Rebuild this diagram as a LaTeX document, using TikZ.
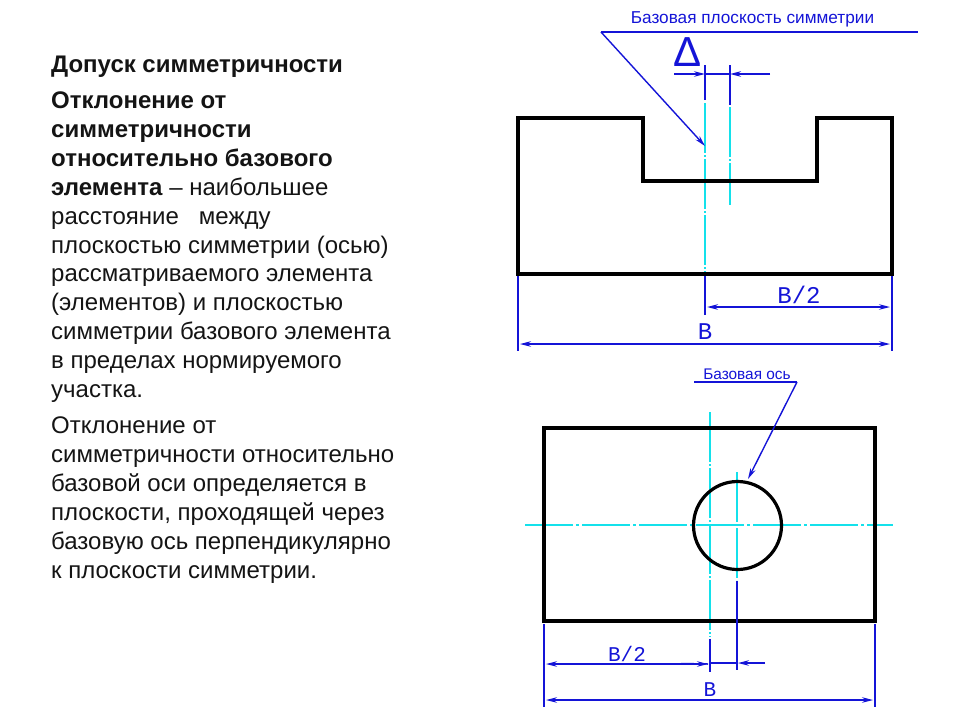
\documentclass[tikz,border=0pt]{standalone}
\usepackage{fontspec}
\setmainfont{Liberation Sans}
\newfontfamily\cadfont{Liberation Mono}
\usetikzlibrary{arrows.meta}
\definecolor{dimblue}{RGB}{20,20,215}
\definecolor{axiscyan}{RGB}{20,225,235}
\definecolor{txt}{RGB}{20,20,20}
\tikzset{
  x=1pt,y=-1pt,
  outline/.style={draw=black,line width=3.2pt,line join=miter},
  axisline/.style={draw=axiscyan,line width=2.4pt,dash pattern=on 50pt off 2pt on 2pt off 2pt},
  axisthin/.style={draw=axiscyan,line width=1.5pt,dash pattern=on 50pt off 2pt on 2pt off 2pt},
  centerline/.style={draw=axiscyan,line width=1.5pt,dash pattern=on 48pt off 3pt on 3pt off 3pt},
  dimthin/.style={draw=dimblue,line width=1.2pt},
  dimthick/.style={draw=dimblue,line width=2.2pt},
  dimarrow/.style={dimthin,{Stealth[length=11pt,width=5.5pt]}-{Stealth[length=11pt,width=5.5pt]}},
  toarrow/.style={dimthin,-{Stealth[length=11pt,width=5.5pt]}},
  para/.style={anchor=base west,align=left,inner sep=0pt,text=txt,font=\fontsize{24}{28.9}\selectfont},
  caption/.style={text=dimblue,inner sep=0pt},
  cadA/.style={text=dimblue,inner sep=0pt,font=\cadfont\fontsize{24}{24}\selectfont},
  cadB/.style={text=dimblue,inner sep=0pt,font=\cadfont\fontsize{21}{21}\selectfont},
}
\begin{document}
\begin{tikzpicture}
\useasboundingbox (0,0) rectangle (960,720);
% text
\node[para] (title) at (51,72) {\textbf{Допуск симметричности}};
\node[para] (p1) at (51,397.5) {\textbf{Отклонение от}\\
\textbf{симметричности}\\
\textbf{относительно базового}\\
\textbf{элемента} – наибольшее\\
расстояние \ \ между\\
плоскостью симметрии (осью)\\
рассматриваемого элемента\\
(элементов) и плоскостью\\
симметрии базового элемента\\
в пределах нормируемого\\
участка.};
\node[para] (p2) at (51,578) {Отклонение от\\
симметричности относительно\\
базовой оси определяется в\\
плоскости, проходящей через\\
базовую ось перпендикулярно\\
к плоскости симметрии.};
% upper view
\draw[axisline] (705,103) -- (705,273);
\draw[axisthin] (730,107) -- (730,205);
\draw[outline] (518,118) -- (643,118) -- (643,181) -- (817,181) -- (817,118) -- (892,118) -- (892,274) -- (518,274) -- cycle;
\node[caption,font=\fontsize{17.2}{17.2}\selectfont] (capA) at (752.5,19) {Базовая плоскость симметрии};
\coordinate (la) at (601,32);
\coordinate (lb) at (918,32);
\coordinate (lc) at (705,146);
\draw[dimthick] (la) -- (lb);
\draw[toarrow,line width=1.4pt] (la) -- (lc);
\node[text=dimblue,inner sep=0pt,font=\fontsize{42}{42}\selectfont] (delta) at (688,52.5) {Δ};
\coordinate (d1) at (705,74);
\coordinate (d2) at (730,74);
\draw[dimthick] (705,65) -- (705,100);
\draw[dimthin] (730,65) -- (730,105);
\draw[dimthick] (d1) -- (d2);
\draw[toarrow,line width=1.6pt] (674,74) -- (d1);
\draw[toarrow,line width=1.6pt] (770,74) -- (d2);
\draw[dimthin] (518,276) -- (518,351);
\draw[dimthin] (892,276) -- (892,351);
\draw[dimthick] (705,276) -- (705,315);
\coordinate (b1) at (707,307);
\coordinate (b2) at (890,307);
\coordinate (c1) at (520,344);
\coordinate (c2) at (890,344);
\draw[dimarrow,line width=1.5pt] (b1) -- (b2);
\draw[dimarrow] (c1) -- (c2);
\node[cadA] (halfA) at (799,295) {B/2};
\node[cadA] (fullA) at (705,332) {B};
% lower view
\draw[axisline] (710,412) -- (710,637);
\draw[axisthin] (737,472) -- (737,580);
\draw[centerline] (525,525) -- (893,525);
\draw[outline] (544,428) rectangle (875,621);
\node[circle,draw=black,line width=3.2pt,minimum size=88pt,inner sep=0pt] (hole) at (737.5,525.5) {};
\node[caption,font=\fontsize{15.4}{15.4}\selectfont] (capB) at (747,374) {Базовая ось};
\coordinate (ma) at (694,382);
\coordinate (mb) at (797,382);
\coordinate (mc) at (748,479);
\draw[dimthick] (ma) -- (mb);
\draw[toarrow,line width=1.4pt] (mb) -- (mc);
\draw[dimthick] (710,639) -- (710,672);
\draw[dimthin] (737,581) -- (737,670);
\draw[dimthin,line width=1.6pt] (544,624) -- (544,707);
\draw[dimthin,line width=1.6pt] (875,624) -- (875,707);
\coordinate (e1) at (546,664);
\coordinate (e2) at (708,664);
\draw[dimarrow] (e1) -- (e2);
\draw[dimthin,line width=1.5pt] (681,663.5) -- (e2);
\coordinate (f1) at (710,663);
\coordinate (f2) at (738,663);
\draw[dimthin,line width=1.5pt] (f1) -- (f2);
\draw[toarrow,line width=1.5pt] (765,663) -- (f2);
\coordinate (g1) at (546,700);
\coordinate (g2) at (873,700);
\draw[dimarrow] (g1) -- (g2);
\node[cadB] (halfB) at (627,654) {B/2};
\node[cadB] (fullB) at (710,690) {B};
\end{tikzpicture}
\end{document}
